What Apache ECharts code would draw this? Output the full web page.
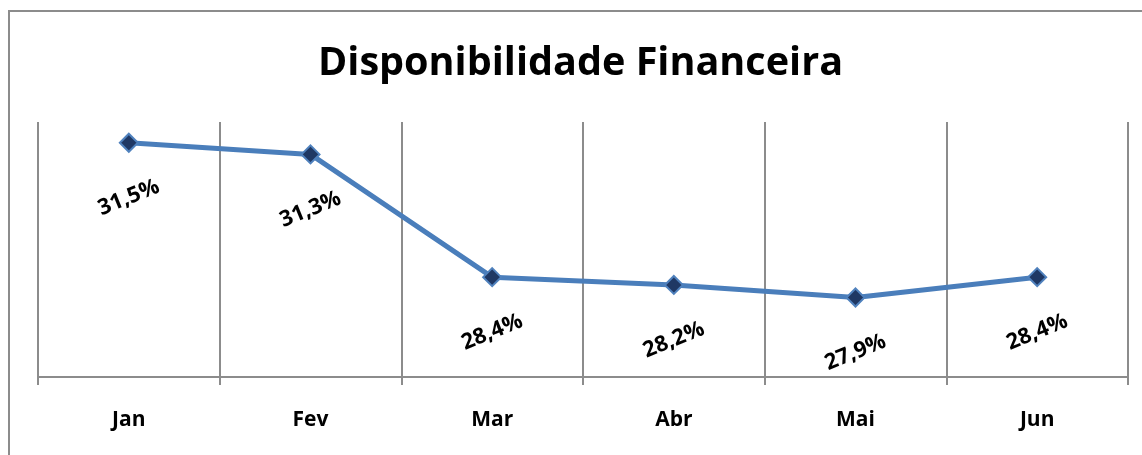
<!DOCTYPE html>
<html>
<head>
<meta charset="utf-8">
<script src="https://cdn.jsdelivr.net/npm/echarts@6/dist/echarts.min.js"></script>
<style>
  html, body { margin: 0; padding: 0; background: #fff; }
  #main { width: 1142px; height: 455px; }
</style>
</head>
<body>
<div id="main"></div>
<script>
// dados
var meses = ["Jan", "Fev", "Mar", "Abr", "Mai", "Jun"];
var disponibilidade = [31.52, 31.25, 28.41, 28.23, 27.94, 28.41];
var titulo = "Disponibilidade Financeira";

var chart = echarts.init(document.getElementById("main"));

// rotulos girados: o offset tambem gira, entao compensa
var ang = 22;
var dist = 55;
var rad = ang * Math.PI / 180;

var option = {
  animation: false,
  backgroundColor: "#fff",
  title: {
    text: titulo,
    left: 313,
    top: 39,
    textStyle: {
      fontFamily: "Open Sans",
      fontWeight: "bold",
      fontSize: 39.6,
      color: "#000"
    }
  },
  graphic: [
    {
      type: "rect",
      shape: { x: 9, y: 11, width: 1150, height: 470 },
      style: { fill: "none", stroke: "#8c8c8c", lineWidth: 2 },
      silent: true
    }
  ],
  grid: { left: 38, right: 14, top: 122, bottom: 78 },
  xAxis: {
    type: "category",
    data: meses,
    boundaryGap: true,
    axisLine: { lineStyle: { color: "#8c8c8c", width: 2 } },
    axisTick: { show: true, length: 8, lineStyle: { color: "#8c8c8c", width: 2 } },
    splitLine: { show: true, lineStyle: { color: "#8c8c8c", width: 2 } },
    axisLabel: {
      margin: 33,
      color: "#000",
      fontFamily: "Open Sans",
      fontWeight: "bold",
      fontSize: 21
    }
  },
  yAxis: {
    type: "value",
    min: 26.1,
    max: 32,
    show: false
  },
  series: [
    {
      type: "line",
      data: disponibilidade,
      symbol: "diamond",
      symbolSize: 18,
      lineStyle: { color: "#4a7ebb", width: 5 },
      itemStyle: { color: "#1f3864", borderColor: "#4f81bd", borderWidth: 2 },
      label: {
        show: true,
        position: "inside",
        offset: [-dist * Math.sin(rad), dist * Math.cos(rad)],
        rotate: ang,
        color: "#000",
        fontFamily: "Open Sans",
        fontWeight: "bold",
        fontSize: 22,
        formatter: function (p) {
          return p.value.toFixed(1).replace(".", ",") + "%";
        }
      }
    }
  ]
};

chart.setOption(option);
</script>
</body>
</html>
